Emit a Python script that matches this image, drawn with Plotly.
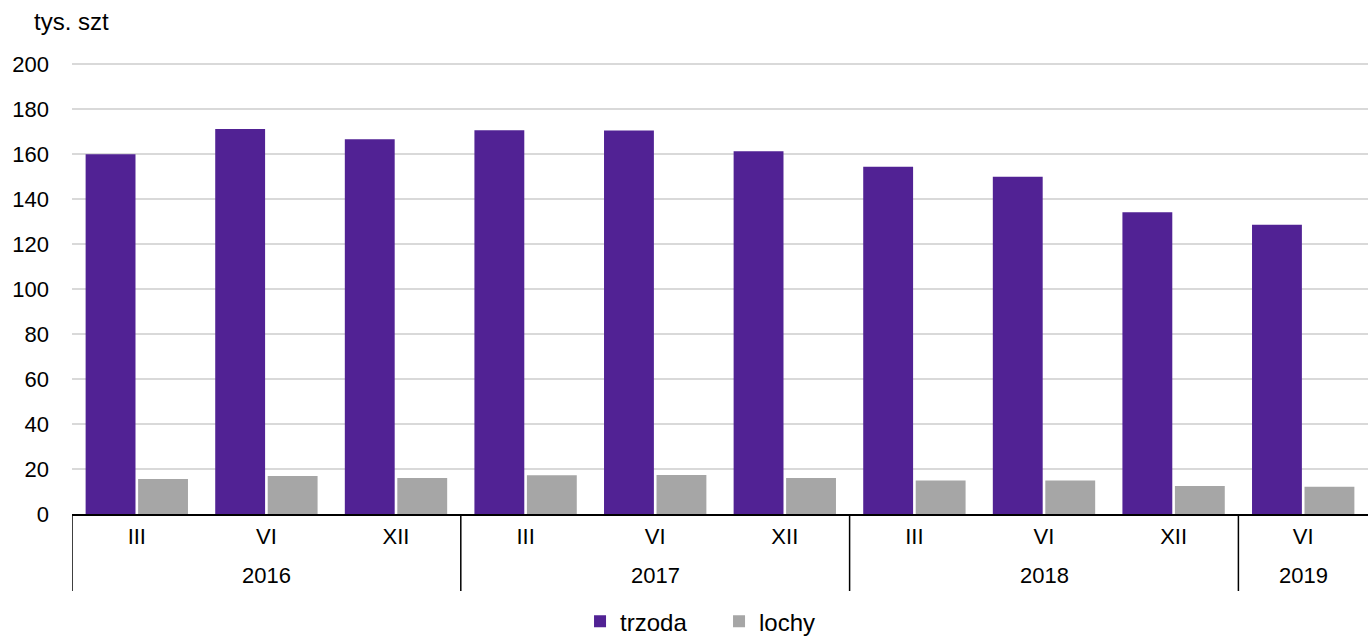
import plotly.graph_objects as go

years = ["2016", "2016", "2016", "2017", "2017", "2017", "2018", "2018", "2018", "2019"]
months = ["III", "VI", "XII", "III", "VI", "XII", "III", "VI", "XII", "VI"]
trzoda = [160.0, 171.2, 166.7, 170.7, 170.6, 161.4, 154.5, 150.0, 134.2, 128.6]
lochy = [15.6, 16.9, 16.0, 17.2, 17.3, 16.0, 14.9, 14.9, 12.4, 12.1]
y_ticks = list(range(0, 201, 20))

FONT = "Liberation Sans, Arial, sans-serif"

pos = list(range(len(months)))

fig = go.Figure()
fig.add_trace(go.Bar(x=pos, y=trzoda, name="trzoda",
                     marker=dict(color="#512294", line=dict(width=0))))
fig.add_trace(go.Bar(x=pos, y=lochy, name="lochy",
                     marker=dict(color="#a6a6a6", line=dict(width=0))))

# year group labels and divider lines derived from the category data
annotations = [dict(text="tys. szt", xref="paper", yref="paper", x=-0.031, y=1.091,
                    xanchor="left", yanchor="middle", showarrow=False,
                    font=dict(size=24))]
shapes = []
groups = []
for i, yr in enumerate(years):
    if not groups or groups[-1][0] != yr:
        groups.append([yr, i, i])
    else:
        groups[-1][2] = i
for yr, a, b in groups:
    annotations.append(dict(text=yr, xref="x", yref="paper", x=(a + b) / 2, y=-0.1353,
                            xanchor="center", yanchor="middle", showarrow=False,
                            font=dict(size=22)))
    shapes.append(dict(type="line", xref="x", yref="paper", x0=a - 0.5, x1=a - 0.5,
                       y0=0, y1=-0.1707, line=dict(color="#000000", width=1.5)))

fig.update_layout(
    width=1368, height=639,
    margin=dict(l=72, r=0, t=63, b=125),
    paper_bgcolor="white", plot_bgcolor="white",
    barmode="group", bargap=0.19, bargroupgap=0.05,
    font=dict(family=FONT, size=22, color="#000000"),
    legend=dict(orientation="h", x=0.392, xanchor="left",
                yref="container", y=0.027, yanchor="middle",
                font=dict(size=24), entrywidth=94, traceorder="normal"),
    annotations=annotations,
    shapes=shapes,
)
fig.update_xaxes(range=[-0.5, len(months) - 0.5], tickvals=pos, ticktext=months,
                 showline=True, linecolor="#000000", linewidth=1.5,
                 ticks="", tickfont=dict(size=22), showgrid=False, automargin=False,
                 zeroline=False, ticklabelstandoff=2)
fig.update_yaxes(range=[0, 200.6], tickvals=y_ticks, showgrid=True,
                 gridcolor="#d9d9d9", gridwidth=2,
                 zeroline=False, tickfont=dict(size=22), ticks="", automargin=False,
                 ticklabelstandoff=22)

fig.write_html("out.html", config={"displayModeBar": False},
               post_script="document.body.style.margin='0px';")
